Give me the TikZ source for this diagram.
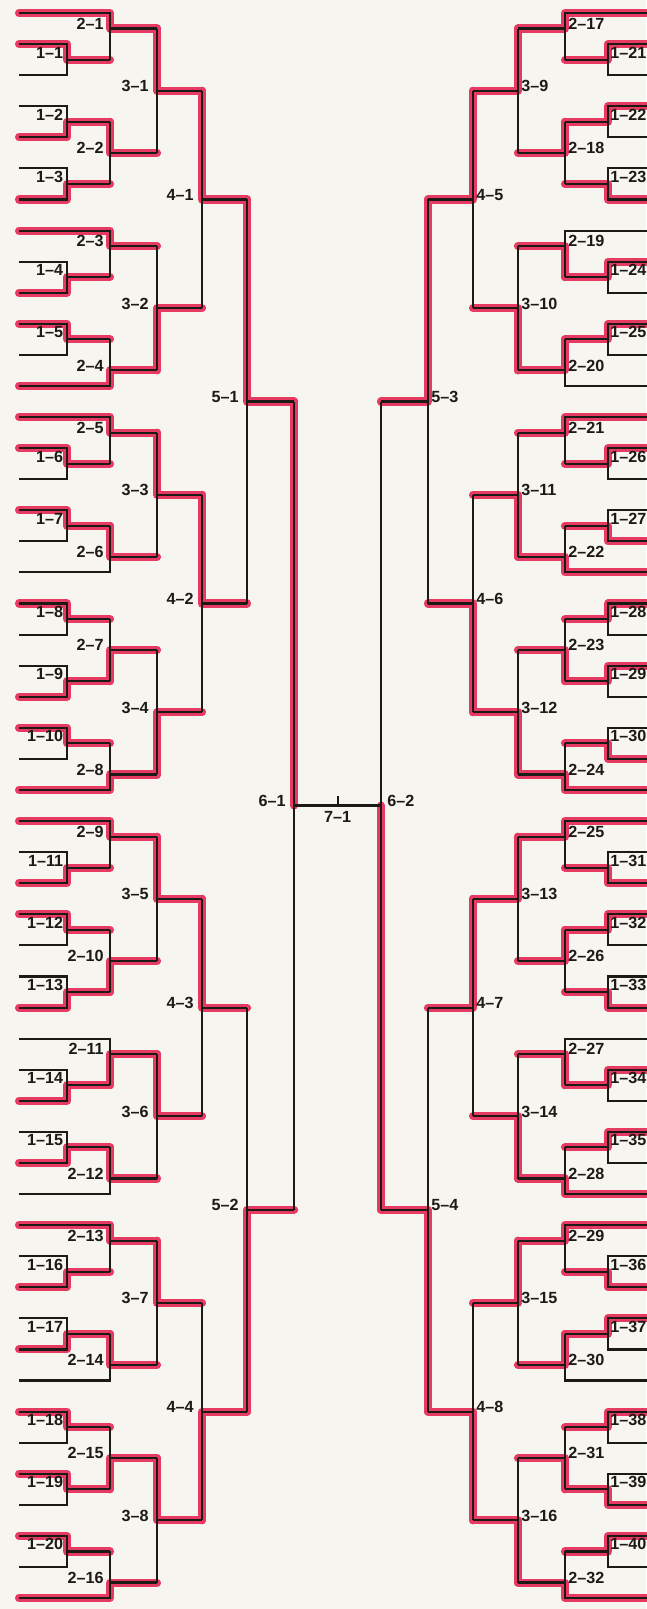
\documentclass[tikz,border=0pt]{standalone}
\usepackage{fontspec}
\setmainfont{Liberation Sans}
\definecolor{ink}{HTML}{1C1A17}
\definecolor{paper}{HTML}{F7F5EF}
\definecolor{hlred}{HTML}{E63A62}
\pgfdeclarelayer{paperlayer}
\pgfdeclarelayer{markerlayer}
\pgfsetlayers{paperlayer,markerlayer,main}
\def\xs{19}\def\xa{67}\def\xb{110}\def\xc{157}\def\xd{202}\def\xe{247}\def\xf{294}
\newcommand\hl[1]{\begin{pgfonlayer}{markerlayer}\draw[hilite] #1;\end{pgfonlayer}}
\newcommand\firstround[3]{%
  \draw[pen] (\xs,#1) -- (\xa,#1) -- (\xa,#1+1) -- (\xs,#1+1) (\xa,#1+0.5) -- (\xb,#1+0.5);
  \node[tag] (m1-#2) at (\xa-\onegap,#1+0.27) {1--#2};
  \hl{(\xs,#1+#3) -- (\xa,#1+#3) -- (\xa,#1+0.5) -- (\xb,#1+0.5)}}
\newcommand\byetop[5]{%
  \draw[pen] (\xs,#1) -- (\xb,#1) -- (\xb,#1+1.5) (\xb,#1+0.5) -- (\xc,#1+0.5);
  \firstround{#1+1}{#2}{#4}
  \node[tag] (m2-#3) at (\xb-\labgap,#1+0.34) {2--#3};
  \ifnum#5=0 \hl{(\xs,#1) -- (\xb,#1) -- (\xb,#1+0.5) -- (\xc,#1+0.5)}%
  \else \hl{(\xb,#1+1.5) -- (\xb,#1+0.5) -- (\xc,#1+0.5)}\fi}
\newcommand\byebottom[5]{%
  \firstround{#1}{#2}{#4}
  \draw[pen] (\xb,#1+0.5) -- (\xb,#1+2) -- (\xs,#1+2) (\xb,#1+1.5) -- (\xc,#1+1.5);
  \node[tag] (m2-#3) at (\xb-\labgap,#1+1.34) {2--#3};
  \ifnum#5=0 \hl{(\xb,#1+0.5) -- (\xb,#1+1.5) -- (\xc,#1+1.5)}%
  \else \hl{(\xs,#1+2) -- (\xb,#1+2) -- (\xb,#1+1.5) -- (\xc,#1+1.5)}\fi}
\newcommand\pairup[7]{%
  \firstround{#1}{#2}{#5}
  \firstround{#1+2}{#3}{#6}
  \draw[pen] (\xb,#1+0.5) -- (\xb,#1+2.5) (\xb,#1+1.5) -- (\xc,#1+1.5);
  \node[tag] (m2-#4) at (\xb-\labgap,#1+1.34) {2--#4};
  \hl{(\xb,{#1+0.5+2*#7}) -- (\xb,#1+1.5) -- (\xc,#1+1.5)}}
\newcommand\laterround[7]{%
  \pgfmathsetmacro\ymid{(#3+#4)/2}
  \draw[pen] (#1,#3) -- (#1,#4) (#1,\ymid) -- (#2,\ymid);
  \node[tag] (m#5-#6) at (#1-\labgap,\ymid-0.15) {#5--#6};
  \hl{(#1,{#3+#7*(#4-#3)}) -- (#1,\ymid) -- (#2,\ymid)}}

\begin{document}
\begin{tikzpicture}[x={(0.02cm,0)},y={(0,-0.6216cm)},
  pen/.style={draw=ink,line width=1.2pt},
  hilite/.style={draw=hlred,line width=4.6pt,line cap=round,line join=round},
  lab/.style={font=\fontsize{9.2}{10}\selectfont\bfseries,text=ink,inner sep=0pt}]
\useasboundingbox (0cm,0.26cm) rectangle (12.92cm,-31.92cm);
\begin{pgfonlayer}{paperlayer}
\fill[paper] (0cm,0.26cm) rectangle (12.92cm,-31.92cm);
\end{pgfonlayer}

\begin{scope}[tag/.style={lab,anchor=east}]
\def\labgap{6}\def\onegap{3.5}
\byetop{0}{1}{1}{0}{0}
\pairup{3}{2}{3}{2}{1}{1}{0}
\byetop{7}{4}{3}{1}{0}
\byebottom{10}{5}{4}{0}{1}
\byetop{13}{6}{5}{0}{0}
\byebottom{16}{7}{6}{0}{0}
\pairup{19}{8}{9}{7}{0}{1}{1}
\byebottom{23}{10}{8}{0}{1}
\byetop{26}{11}{9}{1}{0}
\pairup{29}{12}{13}{10}{0}{1}{1}
\byetop{33}{14}{11}{1}{1}
\byebottom{36}{15}{12}{1}{0}
\byetop{39}{16}{13}{1}{0}
\byebottom{42}{17}{14}{1}{0}
\pairup{45}{18}{19}{15}{0}{0}{1}
\byebottom{49}{20}{16}{0}{1}
\def\labgap{8}
\laterround{\xc}{\xd}{0.5}{4.5}{3}{1}{0}
\laterround{\xc}{\xd}{7.5}{11.5}{3}{2}{1}
\laterround{\xc}{\xd}{13.5}{17.5}{3}{3}{0}
\laterround{\xc}{\xd}{20.5}{24.5}{3}{4}{1}
\laterround{\xc}{\xd}{26.5}{30.5}{3}{5}{0}
\laterround{\xc}{\xd}{33.5}{37.5}{3}{6}{0}
\laterround{\xc}{\xd}{39.5}{43.5}{3}{7}{0}
\laterround{\xc}{\xd}{46.5}{50.5}{3}{8}{0}
\laterround{\xd}{\xe}{2.5}{9.5}{4}{1}{0}
\laterround{\xd}{\xe}{15.5}{22.5}{4}{2}{0}
\laterround{\xd}{\xe}{28.5}{35.5}{4}{3}{0}
\laterround{\xd}{\xe}{41.5}{48.5}{4}{4}{1}
\laterround{\xe}{\xf}{6}{19}{5}{1}{0}
\laterround{\xe}{\xf}{32}{45}{5}{2}{1}
\draw[pen] (\xf,12.5) -- (\xf,38.5) (\xf,25.5) -- (337.5,25.5);
\node[tag] (m6-1) at (\xf-\labgap,25.35) {6--1};
\hl{(\xf,12.5) -- (\xf,25.5)}
\end{scope}

\begin{scope}[xshift=13.5cm,xscale=-1,tag/.style={lab,anchor=west}]
\def\labgap{3}\def\onegap{2}
\byetop{0}{21}{17}{0}{0}
\pairup{3}{22}{23}{18}{0}{1}{0}
\byetop{7}{24}{19}{0}{1}
\byebottom{10}{25}{20}{0}{0}
\byetop{13}{26}{21}{0}{0}
\byebottom{16}{27}{22}{1}{1}
\pairup{19}{28}{29}{23}{0}{0}{1}
\byebottom{23}{30}{24}{1}{1}
\byetop{26}{31}{25}{1}{0}
\pairup{29}{32}{33}{26}{0}{1}{0}
\byetop{33}{34}{27}{0}{1}
\byebottom{36}{35}{28}{0}{1}
\byetop{39}{36}{29}{1}{0}
\byebottom{42}{37}{30}{0}{0}
\pairup{45}{38}{39}{31}{0}{1}{1}
\byebottom{49}{40}{32}{0}{1}
\laterround{\xc}{\xd}{0.5}{4.5}{3}{9}{0}
\laterround{\xc}{\xd}{7.5}{11.5}{3}{10}{1}
\laterround{\xc}{\xd}{13.5}{17.5}{3}{11}{1}
\laterround{\xc}{\xd}{20.5}{24.5}{3}{12}{1}
\laterround{\xc}{\xd}{26.5}{30.5}{3}{13}{0}
\laterround{\xc}{\xd}{33.5}{37.5}{3}{14}{1}
\laterround{\xc}{\xd}{39.5}{43.5}{3}{15}{0}
\laterround{\xc}{\xd}{46.5}{50.5}{3}{16}{1}
\laterround{\xd}{\xe}{2.5}{9.5}{4}{5}{0}
\laterround{\xd}{\xe}{15.5}{22.5}{4}{6}{1}
\laterround{\xd}{\xe}{28.5}{35.5}{4}{7}{0}
\laterround{\xd}{\xe}{41.5}{48.5}{4}{8}{1}
\laterround{\xe}{\xf}{6}{19}{5}{3}{0}
\laterround{\xe}{\xf}{32}{45}{5}{4}{1}
\draw[pen] (\xf,12.5) -- (\xf,38.5) (\xf,25.5) -- (337.5,25.5);
\node[tag] (m6-2) at (\xf-\labgap-3,25.35) {6--2};
\hl{(\xf,38.5) -- (\xf,25.5)}
\end{scope}

\coordinate (final) at (337.5,25.5);
\draw[pen] (final) -- ++(0,-0.32);
\node[lab] (m7-1) at (337.5,25.88) {7--1};
\end{tikzpicture}
\end{document}
